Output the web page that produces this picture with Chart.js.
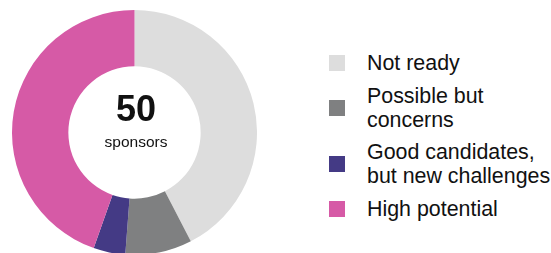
<!DOCTYPE html>
<html>
<head>
<meta charset="utf-8">
<script src="https://cdn.jsdelivr.net/npm/chart.js@4.4.4/dist/chart.umd.min.js"></script>
<style>
  html, body { margin: 0; padding: 0; background: #fff; }
  body { width: 551px; height: 253px; overflow: hidden; position: relative;
         font-family: "Liberation Sans", Arial, sans-serif; color: #111; }
  #wrap { position: absolute; left: 12px; top: 10px; width: 245px; height: 245px; }
  #center { position: absolute; left: 0; top: 0; width: 272px; text-align: center; pointer-events: none; }
  #total { position: absolute; left: 0; width: 100%; top: 89px; font-weight: bold; font-size: 36px; line-height: 40px; }
  #unit { position: absolute; left: 0; width: 100%; top: 133px; font-size: 15.5px; line-height: 18px; }
  #legend { position: absolute; left: 329px; top: 51px; }
  .item { display: flex; align-items: center; margin-bottom: 8.5px; }
  .swatch { width: 16px; height: 16px; margin-right: 22px; flex: none; }
  .text { font-size: 21.4px; line-height: 24px; white-space: nowrap; }
</style>
</head>
<body>
<div id="wrap"><canvas id="chart"></canvas></div>
<div id="center"><div id="total"></div><div id="unit"></div></div>
<div id="legend"></div>
<script>
const categories = [['Not ready'], ['Possible but', 'concerns'], ['Good candidates,', 'but new challenges'], ['High potential']];
const shares = [42.4, 8.8, 4.2, 44.6];
const colors = ['#dddddd', '#7f8081', '#443a85', '#d65aa6'];
const totalSponsors = 50;
const totalLabel = 'sponsors';

document.getElementById('total').textContent = totalSponsors;
document.getElementById('unit').textContent = totalLabel;

new Chart(document.getElementById('chart'), {
  type: 'doughnut',
  data: {
    labels: categories,
    datasets: [{
      data: shares,
      backgroundColor: colors,
      borderWidth: 0,
      hoverOffset: 0
    }]
  },
  options: {
    responsive: true,
    maintainAspectRatio: false,
    animation: false,
    cutout: '54%',
    layout: { padding: 0 },
    plugins: { legend: { display: false }, tooltip: { enabled: false } }
  }
});

// legend kept as html text, built from the same arrays
const legend = document.getElementById('legend');
categories.forEach((lines, i) => {
  const item = document.createElement('div');
  item.className = 'item';
  const sw = document.createElement('div');
  sw.className = 'swatch';
  sw.style.background = colors[i];
  const txt = document.createElement('div');
  txt.className = 'text';
  lines.forEach((line, j) => {
    if (j) txt.appendChild(document.createElement('br'));
    txt.appendChild(document.createTextNode(line));
  });
  item.appendChild(sw);
  item.appendChild(txt);
  legend.appendChild(item);
});
</script>
</body>
</html>
